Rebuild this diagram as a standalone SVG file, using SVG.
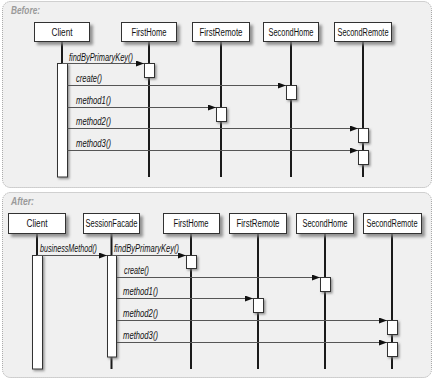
<svg xmlns="http://www.w3.org/2000/svg" width="434" height="380" viewBox="0 0 434 380">
<defs>
<filter id="sh" x="-20%" y="-20%" width="150%" height="160%">
<feDropShadow dx="3" dy="3" stdDeviation="1.6" flood-color="#7a7a7a" flood-opacity="0.8"/>
</filter>
<filter id="shb" x="-40%" y="-20%" width="200%" height="150%">
<feDropShadow dx="1.5" dy="1.5" stdDeviation="0.8" flood-color="#777" flood-opacity="0.8"/>
</filter>
<marker id="ah" viewBox="0 0 8 6" refX="8" refY="3" markerWidth="8" markerHeight="6" markerUnits="userSpaceOnUse" orient="auto">
<path d="M0,0 L8,3 L0,6 Z" fill="#111"/>
</marker>
</defs>
<style>
.panel{fill:#f0f0f0;stroke:#a8a8a8;stroke-width:1;stroke-dasharray:1 1}
.title{font-family:"Liberation Sans",Arial,sans-serif;font-size:11px;font-style:italic;font-weight:bold;fill:#9a9a9a}
.box{fill:#fff;stroke:#333;stroke-width:1;filter:url(#sh)}
.bar{fill:#fff;stroke:#333;stroke-width:1;filter:url(#shb)}
.life{stroke:#1a1a1a;stroke-width:2}
.name{font-family:"Liberation Sans Narrow","Liberation Sans",Arial,sans-serif;font-size:10px;fill:#111;text-anchor:middle}
.msg{stroke:#555;stroke-width:1;fill:none;marker-end:url(#ah)}
.lbl{font-family:"Liberation Sans Narrow","Liberation Sans",Arial,sans-serif;font-size:10px;font-style:italic;fill:#111}
</style>

<rect class="panel" x="2.5" y="1.5" width="429" height="186" rx="8"/>
<text class="title" x="11" y="14" textLength="29" lengthAdjust="spacingAndGlyphs">Before:</text>
<rect class="panel" x="2.5" y="192.5" width="429" height="185" rx="8"/>
<text class="title" x="11" y="205" textLength="23" lengthAdjust="spacingAndGlyphs">After:</text>

<!-- BEFORE -->
<g id="before-lifelines">
<line class="life" x1="62" y1="41" x2="62" y2="177"/>
<line class="life" x1="149" y1="41" x2="149" y2="177"/>
<line class="life" x1="221" y1="41" x2="221" y2="177"/>
<line class="life" x1="291" y1="41" x2="291" y2="177"/>
<line class="life" x1="363" y1="41" x2="363" y2="177"/>
</g>
<g id="b-client"><rect class="box" x="34.5" y="22.5" width="55" height="19"/><text class="name" x="62" y="35.5" textLength="21" lengthAdjust="spacingAndGlyphs">Client</text><rect class="bar" x="57.5" y="63.5" width="10" height="113.5"/></g>
<g id="b-firsthome"><rect class="box" x="121.5" y="22.5" width="55" height="19"/><text class="name" x="149" y="35.5" textLength="35" lengthAdjust="spacingAndGlyphs">FirstHome</text><rect class="bar" x="144.5" y="63.5" width="10" height="14"/></g>
<g id="b-firstremote"><rect class="box" x="192.5" y="22.5" width="57" height="19"/><text class="name" x="221" y="35.5" textLength="43" lengthAdjust="spacingAndGlyphs">FirstRemote</text><rect class="bar" x="216.5" y="107.5" width="10" height="14"/></g>
<g id="b-secondhome"><rect class="box" x="263.5" y="22.5" width="55" height="19"/><text class="name" x="291" y="35.5" textLength="45" lengthAdjust="spacingAndGlyphs">SecondHome</text><rect class="bar" x="286.5" y="85.5" width="10" height="14"/></g>
<g id="b-secondremote"><rect class="box" x="334.5" y="22.5" width="57" height="19"/><text class="name" x="363" y="35.5" textLength="51" lengthAdjust="spacingAndGlyphs">SecondRemote</text><rect class="bar" x="358.5" y="128.5" width="10" height="14"/><rect class="bar" x="358.5" y="150.5" width="10" height="14"/></g>

<g id="before-messages">
<line class="msg" x1="62" y1="63.5" x2="144" y2="63.5"/>
<line class="msg" x1="67.5" y1="85.5" x2="286" y2="85.5"/>
<line class="msg" x1="67.5" y1="107.5" x2="216" y2="107.5"/>
<line class="msg" x1="67.5" y1="128.5" x2="358" y2="128.5"/>
<line class="msg" x1="67.5" y1="150.5" x2="358" y2="150.5"/>
<text class="lbl" x="69" y="61" textLength="64" lengthAdjust="spacingAndGlyphs">findByPrimaryKey()</text>
<text class="lbl" x="76" y="82" textLength="26" lengthAdjust="spacingAndGlyphs">create()</text>
<text class="lbl" x="76" y="104" textLength="35" lengthAdjust="spacingAndGlyphs">method1()</text>
<text class="lbl" x="76" y="125" textLength="35" lengthAdjust="spacingAndGlyphs">method2()</text>
<text class="lbl" x="76" y="147" textLength="35" lengthAdjust="spacingAndGlyphs">method3()</text>
</g>

<!-- AFTER -->
<g id="after-lifelines">
<line class="life" x1="37" y1="233" x2="37" y2="369"/>
<line class="life" x1="111.5" y1="233" x2="111.5" y2="369"/>
<line class="life" x1="191" y1="233" x2="191" y2="369"/>
<line class="life" x1="258" y1="233" x2="258" y2="369"/>
<line class="life" x1="325" y1="233" x2="325" y2="369"/>
<line class="life" x1="392" y1="233" x2="392" y2="369"/>
</g>
<g id="a-client"><rect class="box" x="8.5" y="213.5" width="57" height="20"/><text class="name" x="37" y="227" textLength="21" lengthAdjust="spacingAndGlyphs">Client</text><rect class="bar" x="32.5" y="255.5" width="10" height="113.5"/></g>
<g id="a-sessionfacade"><rect class="box" x="83.5" y="213.5" width="56" height="20"/><text class="name" x="111.5" y="227" textLength="52" lengthAdjust="spacingAndGlyphs">SessionFacade</text><rect class="bar" x="107.5" y="255.5" width="9" height="101.5"/></g>
<g id="a-firsthome"><rect class="box" x="163.5" y="213.5" width="56" height="20"/><text class="name" x="191" y="227" textLength="35" lengthAdjust="spacingAndGlyphs">FirstHome</text><rect class="bar" x="186.5" y="255.5" width="10" height="13"/></g>
<g id="a-firstremote"><rect class="box" x="229.5" y="213.5" width="57" height="20"/><text class="name" x="258" y="227" textLength="43" lengthAdjust="spacingAndGlyphs">FirstRemote</text><rect class="bar" x="253.5" y="298.5" width="10" height="14"/></g>
<g id="a-secondhome"><rect class="box" x="296.5" y="213.5" width="57" height="20"/><text class="name" x="325" y="227" textLength="45" lengthAdjust="spacingAndGlyphs">SecondHome</text><rect class="bar" x="320.5" y="277.5" width="10" height="14"/></g>
<g id="a-secondremote"><rect class="box" x="363.5" y="213.5" width="58" height="20"/><text class="name" x="392" y="227" textLength="51" lengthAdjust="spacingAndGlyphs">SecondRemote</text><rect class="bar" x="387.5" y="320.5" width="10" height="14"/><rect class="bar" x="387.5" y="342.5" width="10" height="14"/></g>

<g id="after-messages">
<line class="msg" x1="37" y1="255.5" x2="107" y2="255.5"/>
<line class="msg" x1="111.5" y1="255.5" x2="186" y2="255.5"/>
<line class="msg" x1="117" y1="277.5" x2="320" y2="277.5"/>
<line class="msg" x1="117" y1="298.5" x2="253" y2="298.5"/>
<line class="msg" x1="117" y1="320.5" x2="387" y2="320.5"/>
<line class="msg" x1="117" y1="342.5" x2="387" y2="342.5"/>
<text class="lbl" x="40" y="252" textLength="57" lengthAdjust="spacingAndGlyphs">businessMethod()</text>
<text class="lbl" x="114" y="252" textLength="65" lengthAdjust="spacingAndGlyphs">findByPrimaryKey()</text>
<text class="lbl" x="124" y="274" textLength="25" lengthAdjust="spacingAndGlyphs">create()</text>
<text class="lbl" x="123" y="295" textLength="35" lengthAdjust="spacingAndGlyphs">method1()</text>
<text class="lbl" x="123" y="317" textLength="35" lengthAdjust="spacingAndGlyphs">method2()</text>
<text class="lbl" x="123" y="339" textLength="35" lengthAdjust="spacingAndGlyphs">method3()</text>
</g>
</svg>
